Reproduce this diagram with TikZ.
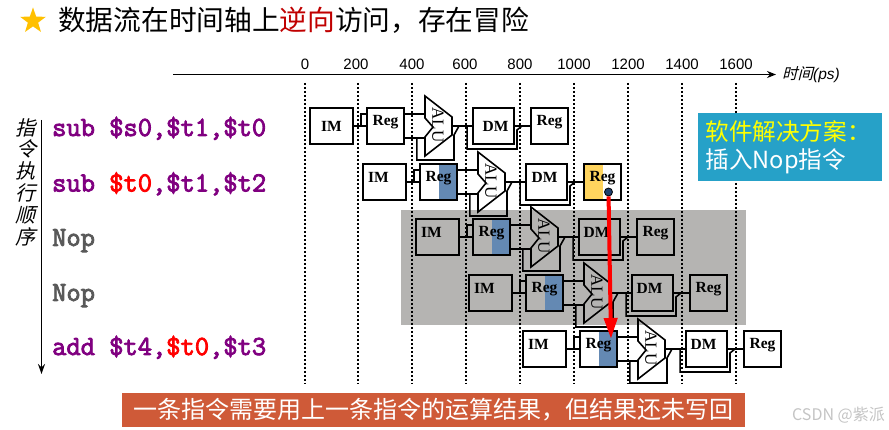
\documentclass[tikz,border=0pt]{standalone}
\usepackage{fontspec}
\setmainfont{Liberation Sans}
\newfontfamily\cjk{Noto Sans CJK SC}
\newfontfamily\cjkit[FakeSlant=0.25]{Noto Sans CJK SC}
\newfontfamily\sansit{Liberation Sans}[ItalicFont=* Italic]
\newfontfamily\stagefont{Liberation Serif}
\newfontfamily\codefont[FakeBold=3]{Latin Modern Mono}
\usetikzlibrary{arrows.meta, positioning, shapes.geometric, calc}
\definecolor{cgold}{HTML}{FFC000}
\definecolor{cred}{HTML}{FF0000}
\definecolor{cdarkred}{HTML}{C00000}
\definecolor{cpurple}{HTML}{800080}
\definecolor{cnop}{HTML}{595959}
\definecolor{cgrey}{HTML}{B5B4B2}
\definecolor{cshade}{HTML}{6489B3}
\definecolor{chalf}{HTML}{FFD45E}
\definecolor{cnavy}{HTML}{1F3F6E}
\definecolor{cteal}{HTML}{26A1C8}
\definecolor{cyellow}{HTML}{FFFF00}
\definecolor{cbar}{HTML}{CF5A38}
\definecolor{cmark}{HTML}{C4C4C4}
\tikzset{
  x=1pt, y=-1pt,
  stage/.style={draw=black, line width=1.8pt, inner sep=0pt, minimum height=36pt},
  plainreg/.style={},
  halfblue/.style={path picture={\fill[cshade] (path picture bounding box.south) rectangle (path picture bounding box.north east);}},
  halfgold/.style={path picture={\fill[chalf] (path picture bounding box.south west) rectangle (path picture bounding box.north);}},
  wire/.style={draw=black, line width=1.6pt},
  gridline/.style={draw=black, line width=1.5pt, dash pattern=on 2pt off 2pt},
  timelabel/.style={font=\fontsize{15}{15}\selectfont, inner sep=0pt},
  instr/.style={font=\fontsize{27.7}{28}\codefont, text=cpurple, anchor=base west, inner sep=0pt},
  every label/.style={font=\fontsize{15.5}{16}\stagefont\bfseries, inner sep=0pt},
}
\begin{document}
\begin{tikzpicture}
  \useasboundingbox (0,0) rectangle (889,430);
  \node[star, star points=5, star point ratio=2.5, fill=cgold, minimum size=27pt, inner sep=0pt] (mark) at (33,21) {};
  \node[anchor=west, inner sep=0pt, font=\fontsize{27.7}{28}\cjk] (title) at (58,20) {数据流在时间轴上\textcolor{cdarkred}{逆向}访问，存在冒险};
  \node[fill=cgrey, minimum width=345pt, minimum height=115pt, inner sep=0pt] (nopband) at (573.5,267.5) {};
  \coordinate (axisa) at (173,74.5);
  \coordinate (axisb) at (776,74.5);
  \draw[-{Stealth[length=9pt,width=7pt]}, line width=1.6pt] (axisa) -- (axisb);
  \node[anchor=west, inner sep=0pt, font=\fontsize{15.5}{16}\cjkit] (timeunit) at (782,75) {时间\sansit\itshape(ps)};
  \foreach \l/\tx/\gx in {0/305/305, 200/356/358, 400/412/412, 600/465/466, 800/520/520, 1000/574/574, 1200/628/628, 1400/682/682, 1600/736/736} {
    \node[timelabel] (t\l) at (\tx,64) {\l};
    \coordinate (top\l) at (\gx,83);
    \coordinate (bot\l) at (\gx,384);
    \draw[gridline] (top\l) -- (bot\l);
  }
  \node[instr] (i1) at (52,136) {sub \$s0,\$t1,\$t0};
  \node[instr] (i2) at (52,191.5) {sub \textcolor{cred}{\$t0},\$t1,\$t2};
  \node[instr, text=cnop] (i3) at (52,246) {Nop};
  \node[instr, text=cnop] (i4) at (52,301) {Nop};
  \node[instr] (i5) at (52,355) {add \$t4,\textcolor{cred}{\$t0},\$t3};
  \coordinate (ordera) at (41.5,120);
  \coordinate (orderb) at (41.5,374);
  \draw[-{Stealth[length=10pt,width=7pt]}, line width=1.6pt] (ordera) -- (orderb);
  \node[align=center, inner sep=0pt, font=\fontsize{20}{21.8}\cjkit] (order) at (26,182) {指\\令\\执\\行\\顺\\序};
  \foreach \r/\x/\y/\ix/\iy/\dx/\sa/\sb in {1/310/108/0/0/2/plainreg/plainreg, 2/363/164/-6/4.5/-2/halfblue/halfgold, 3/416/219/-6/4.5/-3/halfblue/plainreg, 4/469/275/-6/4.5/-3/halfblue/plainreg, 5/523/331/-6/4.5/-3/halfblue/plainreg} {
    \begin{scope}[shift={(\x,\y)}]
      \node[stage, minimum width=43pt, label={[xshift=\ix pt, yshift=\iy pt]center:IM}] (im\r) at (21.5,18) {};
      \node[stage, \sa, minimum width=37pt, label={[yshift=4pt]center:Reg}] (rega\r) at (75.5,18) {};
      \node[inner sep=0pt, rotate=-90, font=\fontsize{17}{17}\stagefont] (alu\r) at (128,17) {ALU};
      \draw[wire] (115,-12) -- (142,9) -- (142,27) -- (115,48) -- (115,29) -- (123,19) -- (115,10) -- cycle;
      \node[stage, minimum width=41pt, label={[xshift=\dx pt, yshift=\iy pt]center:DM}] (dm\r) at (183.5,18) {};
      \node[stage, \sb, minimum width=37pt, label={[yshift=4pt]center:Reg}] (regb\r) at (239.5,18) {};
      \draw[wire] (im\r) -- (rega\r);
      \draw[wire] ($(im\r.east)+(7,0)$) |- ($(rega\r.west)+(0,-12)$);
      \draw[wire] ($(rega\r.east)+(0,-12)$) -- +(21,0);
      \draw[wire] ($(rega\r.east)+(0,12)$) -- +(21,0);
      \draw[wire] ($(rega\r.east)+(12,12)$) |- (144,52) -- (144,27) -- (149,18);
      \draw[wire] (142,18) -- (dm\r);
      \draw[wire] ($(dm\r.west)+(-5,0)$) |- (207,41) -- (207,22) -- (212,18);
      \draw[wire] (dm\r) -- (regb\r);
    \end{scope}
  }
  \node[circle, draw=black, fill=cnavy, line width=0.8pt, minimum size=8pt, inner sep=0pt] (wb) at (608.5,192) {};
  \coordinate (rs) at (611,339);
  \draw[-{Triangle[length=21pt,width=13pt]}, draw=cred, fill=cred, line width=4pt] (wb) -- (rs);
  \node[fill=cteal, text width=168pt, inner xsep=8pt, minimum height=68pt, align=left, text=white, font=\fontsize{23.6}{28}\cjk] (fix) at (789.5,147) {\textcolor{cyellow}{软件解决方案：}\\插入Nop指令};
  \node[fill=cbar, minimum width=623pt, minimum height=34pt, inner sep=0pt, text=white, font=\fontsize{24}{24}\cjk] (cause) at (433.5,410) {一条指令需要用上一条指令的运算结果，但结果还未写回};
  \node[anchor=east, inner sep=0pt, text=cmark, font=\fontsize{16}{16}\cjk] (watermark) at (885,415) {CSDN @紫派};
\end{tikzpicture}
\end{document}
